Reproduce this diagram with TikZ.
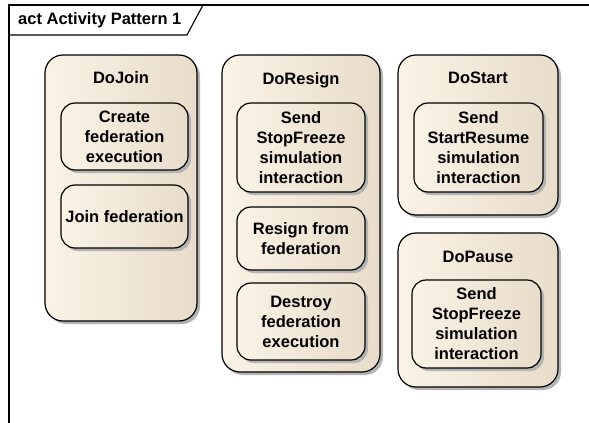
\documentclass[tikz,border=0pt]{standalone}
\usepackage{fontspec}
\setmainfont{Liberation Sans}
\usetikzlibrary{positioning,shadows}
\definecolor{creamL}{HTML}{FAF3E6}
\definecolor{creamR}{HTML}{E8DCCA}
\definecolor{shd}{HTML}{B4B4B4}
\tikzset{
  grp/.style={rectangle, rounded corners=18, draw=black, line width=1.2,
    left color=creamL, right color=creamR, inner sep=0pt,
    drop shadow={shadow xshift=3pt, shadow yshift=-3pt, fill=shd, opacity=1}},
  act/.style={rectangle, rounded corners=14, draw=black, line width=1.2,
    left color=creamL, right color=creamR, inner sep=0pt, align=center,
    drop shadow={shadow xshift=3pt, shadow yshift=-3pt, fill=shd, opacity=1}},
  ttl/.style={inner sep=0pt},
  frm/.style={line width=1.1},
}
\begin{document}
\begin{tikzpicture}[x=1pt, y=-1pt,
  font=\fontsize{16.5}{20}\selectfont\bfseries]
  \useasboundingbox (0,0) rectangle (589,423);
  % frame
  \draw[frm] (9,423) -- (9,5) -- (589,5);
  \draw[frm] (9,35) -- (187,35) -- (203,5);
  \node[ttl, anchor=west] (frameT) at (18,20) {act Activity Pattern 1};
  % DoJoin
  \node[grp, minimum width=152, minimum height=266] (dojoin) at (121,188) {};
  \node[ttl] (dojoinT) at (121,78) {DoJoin};
  \node[act, minimum width=127, minimum height=67] (create) at (124.5,136.5) {Create\\federation\\execution};
  \node[act, minimum width=127, minimum height=63] (join) at (124.5,216.5) {Join federation};
  % DoResign
  \node[grp, minimum width=158, minimum height=317] (doresign) at (301,213.5) {};
  \node[ttl] (doresignT) at (301,80) {DoResign};
  \node[act, minimum width=128, minimum height=89] (sendstop) at (301,147.5) {Send\\StopFreeze\\simulation\\interaction};
  \node[act, minimum width=128, minimum height=63] (resign) at (301,238.5) {Resign from\\federation};
  \node[act, minimum width=128, minimum height=77] (destroy) at (301,321.5) {Destroy\\federation\\execution};
  % DoStart
  \node[grp, minimum width=160, minimum height=160] (dostart) at (478,135) {};
  \node[ttl] (dostartT) at (478,78) {DoStart};
  \node[act, minimum width=129, minimum height=89] (sendstart) at (478.5,147.5) {Send\\StartResume\\simulation\\interaction};
  % DoPause
  \node[grp, minimum width=160, minimum height=154] (dopause) at (478,310) {};
  \node[ttl] (dopauseT) at (478,257) {DoPause};
  \node[act, minimum width=129, minimum height=88] (sendpause) at (476.5,324) {Send\\StopFreeze\\simulation\\interaction};
\end{tikzpicture}
\end{document}
